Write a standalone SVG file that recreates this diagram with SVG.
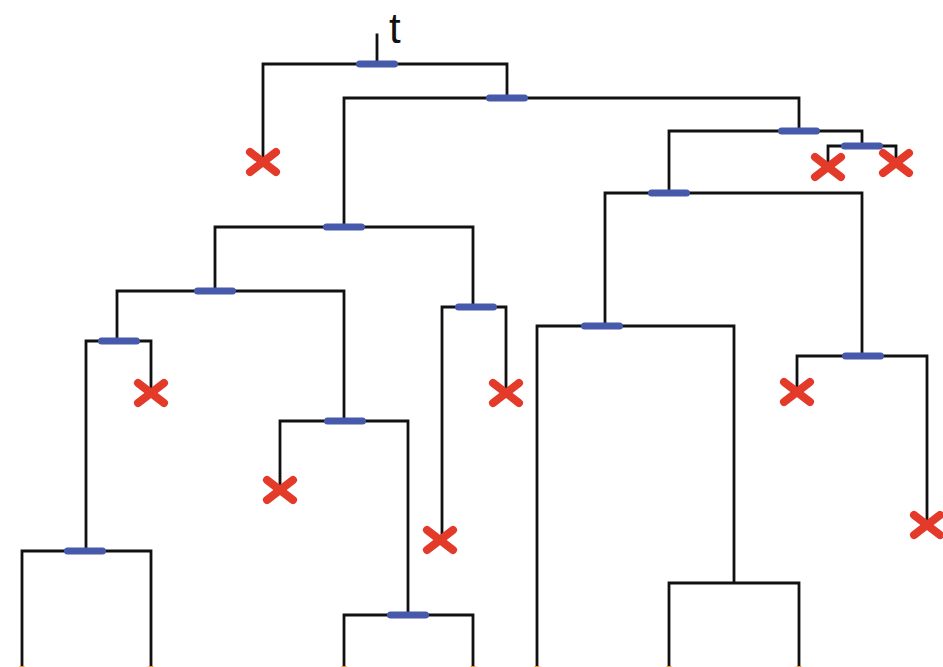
<svg xmlns="http://www.w3.org/2000/svg" width="943" height="667" viewBox="0 0 943 667">
<style>
.e{fill:none;stroke:#111;stroke-width:2.8;stroke-linecap:square}
.b{fill:#4659ab;stroke:none}
.x{stroke:#e33a2a;stroke-width:8;stroke-linecap:round}
.d{fill:#f0a43a}
.t{font-family:"Liberation Sans",Arial,sans-serif;font-size:42px;fill:#111}
</style>
<defs>
<rect id="bar" class="b" x="-21" y="-3.5" width="42" height="7" rx="3.5"/>
<g id="cross"><line class="x" x1="-13" y1="-10" x2="13" y2="10"/><line class="x" x1="-13" y1="10" x2="13" y2="-10"/></g>
</defs>
<rect width="943" height="667" fill="#fff"/>
<g id="connectors">
<path class="e" d="M377,35V64M263,162V64H507V98"/>
<path class="e" d="M344,227V98H799V131"/>
<path class="e" d="M669,193V131H862V146M828,167V146H896V163"/>
<path class="e" d="M605,326V193H862V356"/>
<path class="e" d="M797,392V356H927V525"/>
<path class="e" d="M537,667V326H734V583M669,667V583H799V667"/>
<path class="e" d="M215,291V227H473V307"/>
<path class="e" d="M442,540V307H506V393"/>
<path class="e" d="M117,341V291H344V421"/>
<path class="e" d="M86,551V341H151V393"/>
<path class="e" d="M22,667V551H151V667"/>
<path class="e" d="M280,490V421H408V615"/>
<path class="e" d="M344,667V615H473V667"/>
</g>
<g id="root"><text class="t" x="389" y="43">t</text><use href="#bar" x="377" y="64"/></g>
<g id="n1"><use href="#bar" x="507" y="98"/></g>
<g id="n2"><use href="#bar" x="799" y="131"/></g>
<g id="n3"><use href="#bar" x="862" y="146"/></g>
<g id="n4"><use href="#bar" x="669" y="193"/></g>
<g id="n5"><use href="#bar" x="602" y="326"/></g>
<g id="n6"><use href="#bar" x="863" y="356"/></g>
<g id="n7"><use href="#bar" x="344" y="227"/></g>
<g id="n8"><use href="#bar" x="215" y="291"/></g>
<g id="n9"><use href="#bar" x="476" y="307"/></g>
<g id="n10"><use href="#bar" x="119" y="341"/></g>
<g id="n11"><use href="#bar" x="85" y="551"/></g>
<g id="n12"><use href="#bar" x="345" y="421"/></g>
<g id="n13"><use href="#bar" x="408" y="615"/></g>
<g id="x1"><use href="#cross" x="263" y="162"/></g>
<g id="x2"><use href="#cross" x="828" y="167"/></g>
<g id="x3"><use href="#cross" x="896" y="163"/></g>
<g id="x4"><use href="#cross" x="797" y="392"/></g>
<g id="x5"><use href="#cross" x="927" y="525"/></g>
<g id="x6"><use href="#cross" x="151" y="393"/></g>
<g id="x7"><use href="#cross" x="506" y="393"/></g>
<g id="x8"><use href="#cross" x="280" y="490"/></g>
<g id="x9"><use href="#cross" x="440" y="540"/></g>
<g id="leaves">
<circle class="d" cx="22" cy="673" r="7"/>
<circle class="d" cx="151" cy="673" r="7"/>
<circle class="d" cx="344" cy="673" r="7"/>
<circle class="d" cx="473" cy="673" r="7"/>
<circle class="d" cx="537" cy="673" r="7"/>
<circle class="d" cx="669" cy="673" r="7"/>
<circle class="d" cx="799" cy="673" r="7"/>
</g>
</svg>
